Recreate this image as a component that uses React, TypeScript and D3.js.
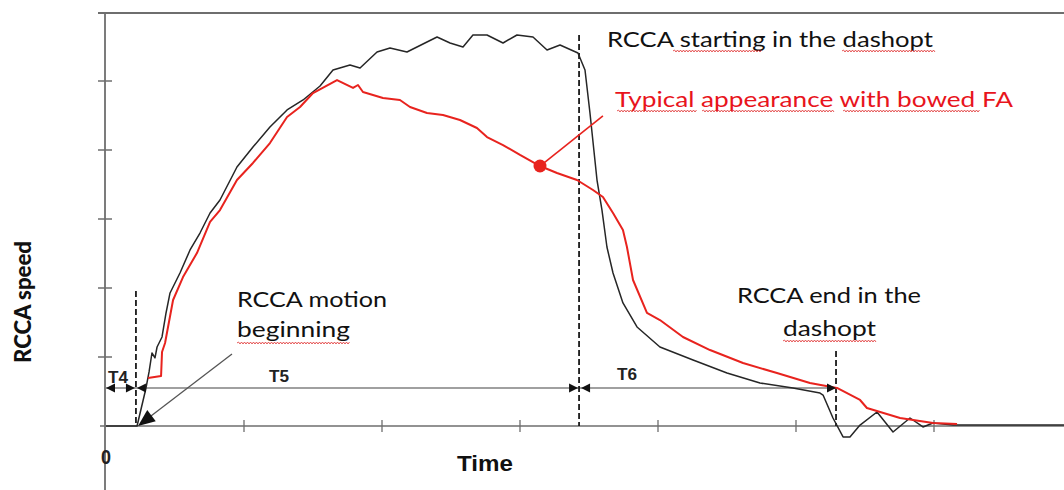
import React from "react";
import * as d3 from "d3";

// ---- data (time units, speed units) ----
const normalTime = [0, 0.225, 0.29, 0.312, 0.333, 0.355, 0.37, 0.406, 0.435, 0.464, 0.536, 0.609, 0.681, 0.754, 0.826, 0.949, 1.065, 1.188, 1.312, 1.428, 1.551, 1.645, 1.768, 1.841, 1.964, 2.058, 2.181, 2.326, 2.399, 2.493, 2.587, 2.659, 2.761, 2.877, 2.978, 3.094, 3.196, 3.29, 3.42, 3.471, 3.507, 3.558, 3.594, 3.63, 3.674, 3.746, 3.848, 4.014, 4.254, 4.5, 4.739, 4.978, 5.174, 5.196, 5.268, 5.341, 5.391, 5.464, 5.587, 5.703, 5.826, 5.92, 5.993, 6.138, 6.942];
const normalSpeed = [0, 0, 0.551, 0.783, 1.058, 0.986, 1.145, 1.29, 1.638, 1.928, 2.217, 2.551, 2.797, 3.087, 3.275, 3.754, 4.043, 4.333, 4.58, 4.725, 4.928, 5.159, 5.232, 5.188, 5.42, 5.478, 5.42, 5.565, 5.638, 5.551, 5.493, 5.667, 5.667, 5.551, 5.667, 5.638, 5.449, 5.522, 5.406, 5.159, 4.536, 3.565, 3.13, 2.594, 2.217, 1.783, 1.435, 1.145, 0.957, 0.768, 0.623, 0.551, 0.478, 0.449, 0.116, -0.159, -0.159, 0.014, 0.203, -0.087, 0.116, -0.014, 0.043, 0.014, 0.014];

const bowedTime = [0.304, 0.399, 0.406, 0.428, 0.486, 0.558, 0.659, 0.754, 0.826, 0.949, 1.065, 1.188, 1.312, 1.406, 1.5, 1.674, 1.79, 1.826, 1.862, 2.007, 2.13, 2.203, 2.326, 2.442, 2.565, 2.688, 2.761, 2.877, 3.0, 3.145, 3.268, 3.413, 3.529, 3.601, 3.674, 3.746, 3.775, 3.819, 3.92, 4.014, 4.181, 4.377, 4.616, 4.862, 5.101, 5.297, 5.464, 5.514, 5.754, 5.993, 6.167];
const bowedSpeed = [0.696, 0.725, 1.072, 1.203, 1.826, 2.159, 2.507, 2.957, 3.13, 3.565, 3.812, 4.101, 4.478, 4.623, 4.826, 5.014, 4.899, 4.942, 4.841, 4.754, 4.725, 4.623, 4.536, 4.507, 4.435, 4.319, 4.188, 4.072, 3.928, 3.768, 3.667, 3.565, 3.42, 3.319, 3.087, 2.841, 2.594, 2.116, 1.638, 1.536, 1.29, 1.101, 0.913, 0.768, 0.623, 0.551, 0.377, 0.261, 0.116, 0.043, 0.029];

const xTicks = [1, 2, 3, 4, 5, 6];
const yTicks = [1, 2, 3, 4, 5];
const markerTimes = [0.217, 3.428, 5.29];
const markerTops = [1.957, 5.667, 1.087];
const intervalLevel = 0.551;
const intervalLabels = ["T4", "T5", "T6"];
const bowedPoint = [3.145, 3.768];

const W = 1064;
const H = 490;

const x = d3.scaleLinear().domain([0, 7]).range([106, 1072]);
const y = d3.scaleLinear().domain([0, 6]).range([426, 12]);

const line = d3
  .line<[number, number]>()
  .x((d) => x(d[0]))
  .y((d) => y(d[1]));

const normalPts = normalTime.map((t, i) => [t, normalSpeed[i]] as [number, number]);
const bowedPts = bowedTime.map((t, i) => [t, bowedSpeed[i]] as [number, number]);

function arrowHead(tx: number, ty: number, fx: number, fy: number, len: number, w: number) {
  const dx = tx - fx;
  const dy = ty - fy;
  const L = Math.hypot(dx, dy) || 1;
  const ux = dx / L;
  const uy = dy / L;
  const bx = tx - ux * len;
  const by = ty - uy * len;
  return `M${tx},${ty}L${bx - uy * w},${by + ux * w}L${bx + uy * w},${by - ux * w}Z`;
}

function squiggle(x1: number, x2: number, yy: number) {
  let d = `M${x1},${yy}`;
  let up = true;
  for (let xx = x1 + 1.5; xx <= x2; xx += 1.5) {
    d += `L${xx},${yy + (up ? -1 : 1)}`;
    up = !up;
  }
  return d;
}

const AXIS = "#6e6e6e";
const BLACK = "#262626";
const RED = "#e8231e";
const RED_TEXT = "#e8141c";
const TEXT_FONT = "Lato, 'Open Sans', sans-serif";
const BOLD_FONT = "'Liberation Sans', Arial, sans-serif";

export default function App() {
  const yT = y(intervalLevel);
  const x0 = x(0);
  const xa = x(markerTimes[0]);
  const xb = x(markerTimes[1]);
  const xc = x(markerTimes[2]);
  const ah = (tx: number, fx: number) => arrowHead(tx, yT, fx, yT, 9, 4.5);
  const squiggles: [number, number, number][] = [
    [673, 762, 51],
    [842, 935, 51],
    [617, 697, 111],
    [702, 835, 111],
    [843, 980, 111],
    [237, 350, 343],
    [783, 876, 341],
  ];
  return (
    <svg
      width={W}
      height={H}
      viewBox={`0 0 ${W} ${H}`}
      style={{ position: "absolute", left: 0, top: 0, background: "#fff" }}
    >
      <rect width={W} height={H} fill="#fff" />
      {/* frame / axes */}
      <line x1={98} x2={W} y1={y(6) + 1} y2={y(6) + 1} stroke={AXIS} strokeWidth={1.8} />
      <line x1={x0 - 1} x2={x0 - 1} y1={y(6) + 1} y2={H} stroke={AXIS} strokeWidth={1.8} />
      <line x1={100} x2={W} y1={y(0)} y2={y(0)} stroke={AXIS} strokeWidth={1.5} />
      {xTicks.map((t) => (
        <line key={"xt" + t} x1={x(t)} x2={x(t)} y1={y(0) - 6} y2={y(0) + 6} stroke={AXIS} strokeWidth={1.3} />
      ))}
      {yTicks.map((v) => (
        <line key={"yt" + v} x1={98} x2={112} y1={y(v)} y2={y(v)} stroke={AXIS} strokeWidth={1.5} />
      ))}

      {/* interval line */}
      <line x1={x0} x2={xc} y1={yT} y2={yT} stroke="#808080" strokeWidth={1.4} />

      {/* dashed markers */}
      {markerTimes.map((t, i) => (
        <line
          key={"m" + i}
          x1={x(t)}
          x2={x(t)}
          y1={y(markerTops[i])}
          y2={y(0)}
          stroke="#1a1a1a"
          strokeWidth={1.8}
          strokeDasharray="6,3"
        />
      ))}

      {/* curves */}
      <path d={line(normalPts) || ""} fill="none" stroke={BLACK} strokeWidth={1.5} strokeLinejoin="round" />
      <path d={line(bowedPts) || ""} fill="none" stroke={RED} strokeWidth={2} strokeLinejoin="round" />

      {/* interval arrowheads */}
      <g fill="#111">
        <path d={ah(x0, x0 + 10)} />
        <path d={ah(xa - 1, xa - 11)} />
        <path d={ah(xa + 1, xa + 11)} />
        <path d={ah(xb - 1, xb - 11)} />
        <path d={ah(xb + 2, xb + 12)} />
        <path d={ah(xc, xc - 10)} />
      </g>
      <g fontFamily={BOLD_FONT} fontWeight="bold" fontSize={16} fill="#222">
        <text x={108} y={383} textLength={20} lengthAdjust="spacingAndGlyphs">{intervalLabels[0]}</text>
        <text x={269} y={382} textLength={20} lengthAdjust="spacingAndGlyphs">{intervalLabels[1]}</text>
        <text x={617} y={380} textLength={20} lengthAdjust="spacingAndGlyphs">{intervalLabels[2]}</text>
      </g>

      {/* pointer to motion beginning */}
      <line x1={x(0.913)} y1={y(1.043)} x2={x(0.25)} y2={y(0.03)} stroke="#555" strokeWidth={1.3} />
      <path d={arrowHead(x(0.232), y(0.0), x(0.913), y(1.043), 17, 7)} fill="#111" />

      {/* bowed marker */}
      <line
        x1={x(bowedPoint[0])}
        y1={y(bowedPoint[1])}
        x2={x(3.601)}
        y2={y(4.493)}
        stroke={RED}
        strokeWidth={1.6}
      />
      <circle cx={x(bowedPoint[0])} cy={y(bowedPoint[1])} r={6.5} fill={RED} />

      {/* annotations */}
      <g fontFamily={TEXT_FONT} fontSize={22}>
        <text x={607} y={47} fill="#111" textLength={326} lengthAdjust="spacingAndGlyphs">
          RCCA starting in the dashopt
        </text>
        <text x={615} y={107} fill={RED_TEXT} textLength={398} lengthAdjust="spacingAndGlyphs">
          Typical appearance with bowed FA
        </text>
        <text x={237} y={307} fill="#111" textLength={150} lengthAdjust="spacingAndGlyphs">
          RCCA motion
        </text>
        <text x={237} y={337} fill="#111" textLength={113} lengthAdjust="spacingAndGlyphs">
          beginning
        </text>
        <text x={737} y={303} fill="#111" textLength={184} lengthAdjust="spacingAndGlyphs">
          RCCA end in the
        </text>
        <text x={783} y={336} fill="#111" textLength={93} lengthAdjust="spacingAndGlyphs">
          dashopt
        </text>
      </g>
      <g fill="none" stroke="#e03030" strokeWidth={0.8}>
        {squiggles.map((s, i) => (
          <path key={"sq" + i} d={squiggle(s[0], s[1], s[2])} />
        ))}
      </g>

      {/* axis titles */}
      <text
        x={457}
        y={471}
        fontFamily={BOLD_FONT}
        fontWeight="bold"
        fontSize={22}
        fill="#111"
        textLength={56}
        lengthAdjust="spacingAndGlyphs"
      >
        Time
      </text>
      <text
        transform="translate(31,363) rotate(-90)"
        fontFamily={TEXT_FONT}
        fontWeight="900"
        fontSize={22}
        fill="#111"
        textLength={122}
        lengthAdjust="spacingAndGlyphs"
      >
        RCCA speed
      </text>
      <text
        x={106}
        y={464}
        textAnchor="middle"
        fontFamily={BOLD_FONT}
        fontWeight="bold"
        fontSize={21}
        fill="#222"
        textLength={10}
        lengthAdjust="spacingAndGlyphs"
      >
        0
      </text>
    </svg>
  );
}
